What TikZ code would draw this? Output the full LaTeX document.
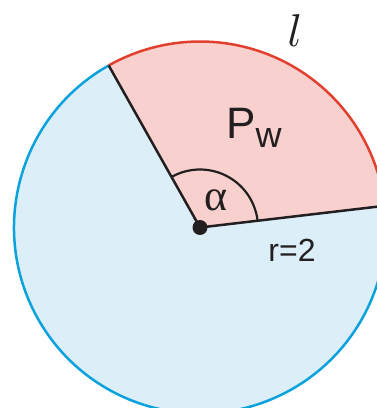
\documentclass[tikz,border=0pt]{standalone}
\usepackage{fontspec}
\usetikzlibrary{calc}
\setmainfont{Liberation Sans}
\newfontfamily\serifgr{Liberation Serif}
\definecolor{cblue}{HTML}{0AA2DC}
\definecolor{cbluefill}{HTML}{DCEFF9}
\definecolor{cred}{HTML}{E2402E}
\definecolor{credfill}{HTML}{F8D1CF}
\definecolor{cdark}{HTML}{231F20}
\begin{document}
\begin{tikzpicture}[x=1pt,y=1pt,
  edge/.style={draw=cdark,line width=2.5pt},
  lbl/.style={inner sep=0pt,text=cdark}]
\useasboundingbox (0,0) rectangle (377,408);
\clip (0,0) rectangle (377,408);
\coordinate (O) at (200,180.5);
\def\R{186}
\coordinate (A) at ($(O)+(6.7:\R)$);
\coordinate (B) at ($(O)+(119.4:\R)$);
% full disc
\fill[cbluefill] (O) circle (\R);
% sector
\fill[credfill] (O) -- (A) arc[start angle=6.7,end angle=119.4,radius=\R] -- cycle;
\draw[cblue,line width=2.5pt] (B) arc[start angle=119.4,end angle=366.7,radius=\R];
\draw[cred,line width=2.5pt] (A) arc[start angle=6.7,end angle=119.4,radius=\R];
\draw[edge] (O) -- (A);
\draw[edge] (O) -- (B);
\draw[cdark,line width=2.2pt] ($(O)+(6.7:58)$) arc[start angle=6.7,end angle=119.4,radius=58];
\fill[cdark] (O) circle (7.5);
\node[lbl] (alpha) at (216,208) {\fontsize{44}{44}\selectfont\serifgr α};
\node[lbl,anchor=base west] (P) at (226,269) {\fontsize{44}{44}\selectfont P\raisebox{-9pt}{\fontsize{36}{36}\selectfont w}};
\node[lbl] (r) at (292,158) {\fontsize{32}{32}\selectfont r=2};
\node[lbl] (l) at (295,377) {\scalebox{4.6}{$l$}};
\end{tikzpicture}
\end{document}
